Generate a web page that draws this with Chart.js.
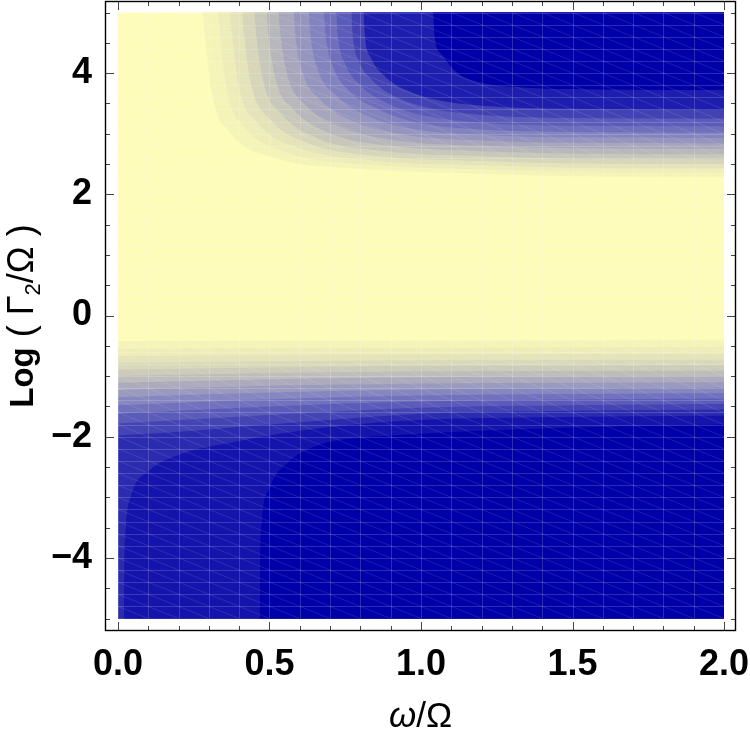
<!DOCTYPE html>
<html><head><meta charset="utf-8">
<script src="https://cdn.jsdelivr.net/npm/chart.js@4.4.1/dist/chart.umd.min.js"></script>
<style>html,body{margin:0;padding:0;background:#fff}</style>
</head><body>
<canvas id="c" width="750" height="736"></canvas>
<script>
// ---- data ----
const xRange = [0, 2];
const yRange = [-5, 5];
const xMajorTicks = [0, 0.5, 1, 1.5, 2];
const xMinorTicks = [0,0.1,0.2,0.3,0.4,0.5,0.6,0.7,0.8,0.9,1,1.1,1.2,1.3,1.4,1.5,1.6,1.7,1.8,1.9,2];
const yMajorTicks = [-4, -2, 0, 2, 4];
const yMinorTicks = [-5,-4.5,-4,-3.5,-3,-2.5,-2,-1.5,-1,-0.5,0,0.5,1,1.5,2,2.5,3,3.5,4,4.5,5];
const xTitleSymbol = 'ω';
const xTitleRest = '/Ω';
const yTitleBold = 'Log';
const yTitleA = ' ( Γ';
const yTitleSub = '2';
const yTitleB = '/Ω )';

// contour levels (0 = dark blue, 1 = pale yellow); region above each top curve
const topLevels = [0, 0.12, 0.26, 0.36, 0.44, 0.52, 0.59, 0.66, 0.73, 0.79, 0.85, 0.90, 0.94, 0.97];
const topCurves = [
  [[1.04,5],[1.045,4.6],[1.07,4.3],[1.12,4.0],[1.2,3.84],[1.35,3.76],[1.6,3.73],[2,3.72]],
  [[0.81,5],[0.815,4.6],[0.835,4.25],[0.88,3.95],[0.95,3.72],[1.05,3.56],[1.2,3.46],[1.5,3.41],[2,3.39]],
  [[0.77,5],[0.775,4.6],[0.795,4.2],[0.84,3.88],[0.92,3.6],[1.03,3.42],[1.2,3.31],[1.5,3.26],[2,3.25]],
  [[0.72,5],[0.726,4.6],[0.75,4.15],[0.8,3.8],[0.89,3.5],[1.01,3.3],[1.2,3.18],[1.5,3.13],[2,3.12]],
  [[0.68,5],[0.686,4.6],[0.71,4.1],[0.76,3.72],[0.86,3.4],[0.99,3.18],[1.2,3.07],[1.5,3.03],[2,3.02]],
  [[0.63,5],[0.636,4.6],[0.66,4.05],[0.72,3.63],[0.82,3.3],[0.97,3.08],[1.2,2.98],[1.5,2.94],[2,2.93]],
  [[0.58,5],[0.586,4.6],[0.61,4.0],[0.67,3.55],[0.78,3.2],[0.95,2.98],[1.2,2.89],[1.5,2.85],[2,2.84]],
  [[0.53,5],[0.537,4.6],[0.56,3.95],[0.62,3.47],[0.74,3.1],[0.92,2.89],[1.2,2.8],[1.5,2.76],[2,2.75]],
  [[0.49,5],[0.497,4.6],[0.52,3.9],[0.58,3.4],[0.7,3.0],[0.9,2.8],[1.2,2.71],[1.5,2.67],[2,2.66]],
  [[0.45,5],[0.457,4.6],[0.48,3.85],[0.54,3.32],[0.66,2.92],[0.88,2.71],[1.2,2.63],[1.5,2.59],[2,2.58]],
  [[0.41,5],[0.417,4.6],[0.44,3.8],[0.5,3.25],[0.63,2.84],[0.86,2.63],[1.2,2.55],[1.5,2.51],[2,2.5]],
  [[0.37,5],[0.377,4.6],[0.4,3.75],[0.46,3.18],[0.6,2.76],[0.84,2.56],[1.2,2.48],[1.5,2.44],[2,2.43]],
  [[0.33,5],[0.337,4.6],[0.36,3.7],[0.42,3.1],[0.56,2.68],[0.82,2.49],[1.2,2.41],[1.5,2.37],[2,2.36]],
  [[0.28,5],[0.287,4.6],[0.31,3.65],[0.37,3.02],[0.52,2.6],[0.8,2.42],[1.2,2.34],[1.5,2.3],[2,2.29]]
];
// region below each bottom curve
const bottomLevels = [0, 0.08, 0.17, 0.27, 0.36, 0.45, 0.53, 0.61, 0.68, 0.75, 0.81, 0.86, 0.90, 0.94, 0.97];
const bottomCurves = [
  [[0.468,-5],[0.469,-4.2],[0.475,-3.4],[0.5,-2.85],[0.56,-2.43],[0.66,-2.14],[0.77,-2.03],[0.93,-1.97],[1.3,-1.88],[2,-1.8]],
  [[0.02,-5],[0.021,-4.2],[0.026,-3.5],[0.045,-2.95],[0.1,-2.57],[0.2,-2.3],[0.38,-2.09],[0.6,-1.9],[0.93,-1.74],[1.4,-1.68],[2,-1.65]],
  [[0,-1.98],[0.25,-1.9],[0.5,-1.8],[1,-1.62],[1.5,-1.57],[2,-1.55]],
  [[0,-1.78],[0.5,-1.64],[1,-1.52],[1.5,-1.48],[2,-1.46]],
  [[0,-1.62],[0.5,-1.5],[1,-1.42],[2,-1.37]],
  [[0,-1.48],[0.5,-1.38],[1,-1.32],[2,-1.28]],
  [[0,-1.35],[0.5,-1.27],[1,-1.22],[2,-1.19]],
  [[0,-1.23],[0.5,-1.16],[1,-1.12],[2,-1.1]],
  [[0,-1.11],[0.5,-1.05],[1,-1.02],[2,-1.0]],
  [[0,-1.0],[0.5,-0.95],[1,-0.92],[2,-0.91]],
  [[0,-0.89],[1,-0.83],[2,-0.82]],
  [[0,-0.78],[1,-0.74],[2,-0.73]],
  [[0,-0.67],[1,-0.64],[2,-0.63]],
  [[0,-0.55],[1,-0.53],[2,-0.52]],
  [[0,-0.42],[1,-0.41],[2,-0.4]]
];

// ---- styling ----
const rampStops = [[0, [0, 0, 168]], [0.5, [126, 126, 192]], [1, [253, 252, 184]]];
function ramp(t) {
  let i = 0;
  while (i < rampStops.length - 2 && t > rampStops[i + 1][0]) i++;
  const [t0, c0] = rampStops[i], [t1, c1] = rampStops[i + 1];
  const f = (t - t0) / (t1 - t0);
  return 'rgb(' + c0.map((c, k) => Math.round(c + (c1[k] - c) * f)).join(',') + ')';
}
const FONT = '"Liberation Sans", Arial, sans-serif';
const pts = arr => arr.map(([x, y]) => ({x, y}));
const common = {showLine: true, borderWidth: 0, borderColor: 'rgba(0,0,0,0)', pointRadius: 0,
  pointHoverRadius: 0, cubicInterpolationMode: 'monotone'};

const datasets = [];
datasets.push(Object.assign({}, common, {
  data: pts([[xRange[0], yRange[1]], [xRange[1], yRange[1]]]),
  fill: {value: yRange[0]}, backgroundColor: ramp(1), order: 1000, tension: 0
}));
topLevels.forEach((t, i) => datasets.push(Object.assign({}, common, {
  data: pts(topCurves[i]), fill: {value: yRange[1]}, backgroundColor: ramp(t), order: 100 + i
})));
bottomLevels.forEach((t, i) => datasets.push(Object.assign({}, common, {
  data: pts(bottomCurves[i]), fill: {value: yRange[0]}, backgroundColor: ramp(t), order: 100 + i
})));

const decor = {
  id: 'decor',
  afterDatasetsDraw(chart) {
    const {ctx, scales: {x, y}} = chart;
    const L = x.getPixelForValue(xRange[0]), R = x.getPixelForValue(xRange[1]);
    const T = y.getPixelForValue(yRange[1]), B = y.getPixelForValue(yRange[0]);
    ctx.save();
    ctx.beginPath(); ctx.rect(L, T, R - L, B - T); ctx.clip();
    ctx.lineWidth = 1;
    ctx.strokeStyle = 'rgba(255,255,255,0.17)';
    ctx.beginPath();
    for (let k = 0; k <= 20; k++) {
      const px = Math.round(x.getPixelForValue(k * 0.1)) + 0.5;
      ctx.moveTo(px, T); ctx.lineTo(px, B);
    }
    for (let j = 0; j <= 50; j++) {
      const py = Math.round(y.getPixelForValue(-5 + j * 0.2)) + 0.5;
      ctx.moveTo(L, py); ctx.lineTo(R, py);
    }
    ctx.stroke();
    ctx.strokeStyle = 'rgba(255,255,255,0.11)';
    ctx.beginPath();
    for (let k = 0; k < 20; k++) {
      for (let j = 0; j < 50; j++) {
        const w = k * 0.1, g = -5 + j * 0.2;
        ctx.moveTo(x.getPixelForValue(w), y.getPixelForValue(g + 0.2));
        ctx.lineTo(x.getPixelForValue(w + 0.1), y.getPixelForValue(g));
      }
    }
    ctx.stroke();
    ctx.restore();
  },
  afterDraw(chart) {
    const {ctx, chartArea: a, scales: {x, y}} = chart;
    ctx.save();
    ctx.strokeStyle = '#444'; ctx.lineWidth = 1;
    ctx.beginPath();
    xMinorTicks.forEach(v => {
      const len = xMajorTicks.some(m => Math.abs(m - v) < 1e-9) ? 9 : 5;
      const px = Math.round(x.getPixelForValue(v)) + 0.5;
      ctx.moveTo(px, a.bottom); ctx.lineTo(px, a.bottom - len);
      ctx.moveTo(px, a.top); ctx.lineTo(px, a.top + len);
    });
    yMinorTicks.forEach(v => {
      const len = yMajorTicks.some(m => Math.abs(m - v) < 1e-9) ? 9 : 5;
      const py = Math.round(y.getPixelForValue(v)) + 0.5;
      ctx.moveTo(a.left, py); ctx.lineTo(a.left + len, py);
      ctx.moveTo(a.right, py); ctx.lineTo(a.right - len, py);
    });
    ctx.stroke();
    ctx.strokeStyle = '#000'; ctx.lineWidth = 1.4;
    ctx.strokeRect(a.left + 0.5, a.top + 0.5, a.right - a.left - 1, a.bottom - a.top - 1);
    // x title
    ctx.fillStyle = '#000';
    ctx.textBaseline = 'alphabetic';
    ctx.textAlign = 'left';
    const f1 = 'italic 35px ' + FONT, f2 = '35px ' + FONT;
    ctx.font = f1; const w1 = ctx.measureText(xTitleSymbol).width;
    ctx.font = f2; const w2 = ctx.measureText(xTitleRest).width;
    const sx = (a.left + a.right) / 2 - (w1 + w2) / 2;
    ctx.font = f1; ctx.fillText(xTitleSymbol, sx, 727);
    ctx.font = f2; ctx.fillText(xTitleRest, sx + w1, 727);
    // y title
    const fb = 'bold 33px ' + FONT, fn = '36px ' + FONT, fs = '22px ' + FONT;
    ctx.font = fb; const wa = ctx.measureText(yTitleBold).width;
    ctx.font = fn; const wb = ctx.measureText(yTitleA).width;
    ctx.font = fs; const wc = ctx.measureText(yTitleSub).width;
    ctx.font = fn; const wd = ctx.measureText(yTitleB).width;
    const tot = wa + wb + wc + wd;
    ctx.translate(33, (a.top + a.bottom) / 2);
    ctx.rotate(-Math.PI / 2);
    let p = -tot / 2;
    ctx.font = fb; ctx.fillText(yTitleBold, p, 0); p += wa;
    ctx.font = fn; ctx.fillText(yTitleA, p, 0); p += wb;
    ctx.font = fs; ctx.fillText(yTitleSub, p, 7); p += wc;
    ctx.font = fn; ctx.fillText(yTitleB, p, 0);
    ctx.restore();
  }
};

new Chart(document.getElementById('c'), {
  type: 'scatter',
  data: {datasets},
  options: {
    responsive: false,
    animation: false,
    events: [],
    layout: {padding: {top: 1, right: 14, left: 0, bottom: 0}},
    plugins: {legend: {display: false}, tooltip: {enabled: false}},
    scales: {
      x: {
        type: 'linear', min: -0.0429, max: 2.0396,
        grid: {display: false}, border: {display: false},
        afterBuildTicks: s => { s.ticks = xMajorTicks.map(v => ({value: v})); },
        afterFit: s => { s.height = 105; s.paddingLeft = 0; s.paddingRight = 0; },
        ticks: {font: {family: FONT, size: 36, weight: 'bold'}, color: '#000', padding: 4,
          maxRotation: 0, autoSkip: false, callback: v => Number(v).toFixed(1)}
      },
      y: {
        type: 'linear', min: -5.206, max: 5.19,
        grid: {display: false}, border: {display: false},
        afterBuildTicks: s => { s.ticks = yMajorTicks.map(v => ({value: v})); },
        afterFit: s => { s.width = 105; s.paddingTop = 0; s.paddingBottom = 0; },
        ticks: {font: {family: FONT, size: 36, weight: 'bold'}, color: '#000', padding: 5,
          autoSkip: false, callback: v => (v < 0 ? '\u2212' + (-v) : String(v))}
      }
    }
  },
  plugins: [decor]
});
</script>
</body></html>
